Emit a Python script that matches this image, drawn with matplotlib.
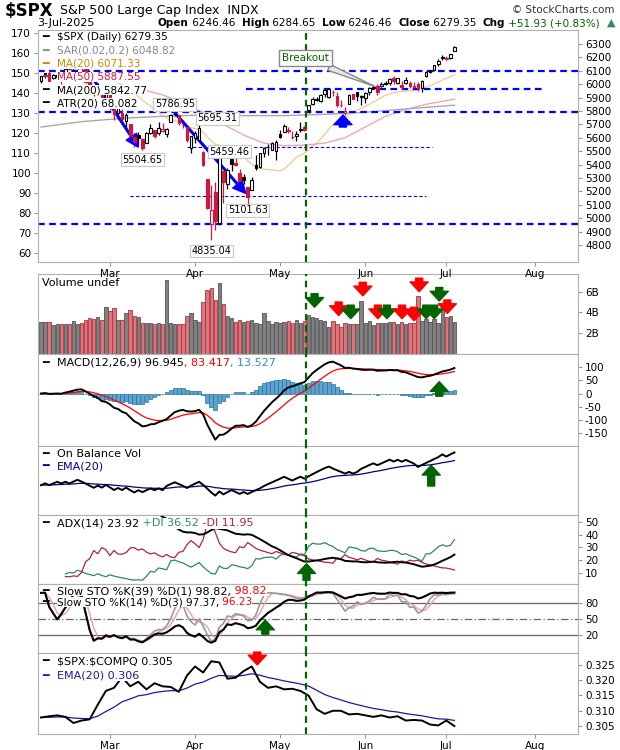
import numpy as np
import pandas as pd
import matplotlib
matplotlib.use('Agg')
import matplotlib.pyplot as plt

plt.rcParams['text.parse_math'] = False
plt.rcParams['axes.unicode_minus'] = False

# trading days Feb 5 .. Jul 3 2025 (index 0..102)
opens = [6020,6072,6083,6046,6050,6025,6060,6115,6122,6118,6134,6115,6027,5982,5970,5982,5857,
         5969,5812,5781,5785,5726,5705,5604,5624,5594,5563,5635,5655,5633,5647,5630,5718,5775,5772,5696,5679,5527,
         5597,5581,5492,5292,4953,5193,4966,5353,5255,5441,5411,5336,5305,5232,5208,5395,5381,5489,5530,5508,5499,
         5626,5645,5655,5605,5614,5661,5679,5807,5854,5884,5871,5929,5903,5944,5910,5842,5781,5855,5925,5939,5903,
         5897,5939,5978,5985,5987,6004,6010,6049,6010,5997,6005,6012,5987,5999,5970,6058,6104,6107,6151,6193,
         6187,6193,6246]
highs = [6062,6084,6101,6074,6076,6064,6116,6127,6129,6147,6134,6119,6044,5992,6010,5994,5959,
         5987,5866,5861,5812,5783,5705,5636,5642,5597,5645,5704,5660,5715,5711,5670,5775,5787,5772,5732,5685,5615,
         5650,5695,5500,5292,5246,5267,5481,5353,5372,5459,5450,5367,5328,5232,5309,5469,5489,5528,5554,5571,5581,
         5658,5700,5683,5649,5654,5721,5691,5845,5907,5907,5925,5959,5969,5953,5939,5879,5830,5925,5930,5944,5922,
         5939,5982,5990,5999,6016,6021,6043,6059,6045,6026,6050,6024,6019,6019,6028,6101,6108,6146,6187,6215,
         6210,6228,6285]
lows = [6007,6044,6020,6041,6042,6004,6051,6107,6100,6111,6085,6009,5977,5908,5935,5857,5837,
        5810,5733,5742,5711,5667,5565,5529,5546,5505,5563,5628,5598,5622,5641,5602,5718,5764,5694,5670,5572,5489,
        5558,5572,5390,5069,4835,4910,4950,5115,5221,5349,5386,5220,5255,5102,5208,5356,5371,5455,5468,5506,5433,
        5597,5644,5637,5587,5579,5640,5650,5787,5847,5876,5867,5907,5896,5908,5830,5826,5768,5855,5887,5874,5843,
        5862,5919,5966,5921,5979,5994,5994,6002,6003,5963,6004,5974,5971,5952,5943,6055,6080,6101,6133,6181,
        6178,6188,6246]
closes = [6061,6083,6026,6066,6068,6052,6115,6114,6129,6144,6117,6013,5983,5955,5956,5861,5955,
          5850,5778,5842,5739,5770,5615,5572,5599,5522,5639,5675,5615,5675,5663,5668,5768,5777,5712,5693,5581,5612,
          5633,5671,5397,5074,5062,4982,5457,5268,5363,5406,5397,5276,5283,5158,5288,5376,5485,5525,5529,5561,5569,
          5604,5686,5650,5607,5631,5664,5660,5844,5886,5892,5917,5958,5964,5941,5845,5842,5803,5922,5889,5912,5912,
          5936,5970,5971,5939,6000,6006,6039,6022,6045,5977,6033,5983,5981,5968,6025,6092,6092,6141,6173,6205,
          6198,6227,6279]
volume_b = [3.1,3.1,3.1,2.8,2.9,2.9,2.9,2.9,3.2,2.9,3.0,3.3,3.5,3.4,3.6,3.3,4.5,
            4.1,4.4,3.3,3.3,3.9,4.2,3.7,3.6,3.0,3.0,3.0,2.9,3.0,2.9,7.1,3.0,2.9,2.9,2.9,3.7,3.9,
            3.3,3.1,5.0,6.2,6.4,5.2,6.8,4.8,3.7,3.5,3.1,3.3,3.1,3.2,3.3,3.0,2.9,3.9,3.2,2.9,3.1,
            3.0,3.1,3.2,3.0,3.3,3.0,3.2,3.8,3.6,3.5,3.3,3.2,2.6,3.2,2.9,2.6,3.0,2.9,2.9,2.9,5.1,
            3.0,3.2,2.8,3.0,3.0,3.0,3.1,3.1,2.9,3.1,2.9,3.0,3.0,5.6,3.2,3.4,3.1,3.4,3.0,4.6,
            3.6,3.7,3.1]
# 200-day MA (every 10 bars) and 50-day MA (every 5 bars from bar 20)
ma200_idx = [0, 10, 20, 30, 40, 50, 60, 70, 80, 90, 102]
ma200_val = [5680, 5720, 5745, 5760, 5770, 5765, 5765, 5775, 5790, 5815, 5843]
ma50_idx = [20, 25, 30, 35, 40, 45, 50, 55, 60, 65, 70, 75, 80, 85, 90, 95, 102]
ma50_val = [5990, 5960, 5920, 5860, 5790, 5700, 5620, 5560, 5540, 5545, 5560, 5600, 5680, 5760, 5810, 5850, 5888]
# $SPX:$COMPQ ratio, every second bar
ratio = [0.3078,0.3082,0.3085,0.3080,0.3060,0.3068,0.3072,0.3120,0.3165,0.3175,0.3210,0.3180,0.3195,
         0.3170,0.3190,0.3180,0.3178,0.3162,0.3215,0.3245,0.3225,0.3262,0.3258,0.3205,0.3208,0.3230,
         0.3245,0.3195,0.3175,0.3180,0.3170,0.3172,0.3165,0.3150,0.3105,0.3090,0.3100,0.3100,0.3088,
         0.3090,0.3085,0.3080,0.3085,0.3078,0.3082,0.3068,0.3070,0.3068,0.3055,0.3052,0.3068,0.3050]
month_idx = [17, 38, 59, 80, 100, 122]
month_lbl = ['Mar', 'Apr', 'May', 'Jun', 'Jul', 'Aug']

o = np.array(opens, float); h = np.array(highs, float); l = np.array(lows, float); c = np.array(closes, float)
n = len(c); x = np.arange(n)
prev = np.r_[c[0], c[:-1]]
down = c < prev
cs = pd.Series(c); hs = pd.Series(h); ls = pd.Series(l)

fig = plt.figure(figsize=(6.2, 7.5), dpi=100)
W, H = 620.0, 750.0
def panel(top, bot):
    return fig.add_axes([38/W, 1-bot/H, 540/W, (bot-top)/H])
XL = (-0.75, 132.5)
GRN = '#006400'; RED = '#ff0000'; BLUE = '#0000ff'
def style(ax):
    ax.set_xlim(*XL)
    for s in ax.spines.values():
        s.set_color('#b0b0b0')
    ax.yaxis.tick_right()
    ax.tick_params(labelsize=7.5, length=3, color='#999999', pad=2)
    ax.set_xticks(month_idx)
    ax.set_xticklabels([])
    ax.axvline(65.5, color=GRN, ls=(0, (3, 2)), lw=1.6, zorder=5)
def barrow(ax, xt, yt, xb, yb, col):
    ax.annotate('', xy=(xt, yt), xytext=(xb, yb),
                arrowprops=dict(facecolor=col, edgecolor=col, width=5, headwidth=13, headlength=7), zorder=8)
def legend_line(ax, y, parts, fs=8):
    # parts: list of (text, colour); chained one after another
    ax.text(0.008, y, '━', fontsize=8, color=parts[0][1], transform=ax.transAxes, va='top')
    prevt = ax.text(0.035, y, parts[0][0], fontsize=fs, color=parts[0][1], transform=ax.transAxes, va='top',
                    bbox=dict(fc='white', ec='none', pad=0.1), zorder=9)
    for txt, col in parts[1:]:
        prevt = ax.annotate(txt, xy=(1, 0), xycoords=prevt, fontsize=fs, color=col, va='bottom', zorder=9,
                            bbox=dict(fc='white', ec='none', pad=0.1))

# ---------- price panel
ax = panel(30, 262)
axl = ax.twinx()
style(ax)
ax.set_ylim(4673, 6404)
ax.set_yticks(np.arange(4800, 6301, 100))
ax.set_xticklabels(month_lbl)
axl.set_ylim(55.5, 171.5)
axl.yaxis.tick_left()
axl.set_yticks(np.arange(60, 171, 10))
axl.tick_params(labelsize=7.5, length=3, color='#999999', pad=2)
for s in axl.spines.values():
    s.set_visible(False)
ax.yaxis.tick_right()
ax.set_zorder(axl.get_zorder()+1)
ax.patch.set_visible(False)
for i in range(n):
    col = '#d4143c' if down[i] else 'black'
    ax.vlines(i, l[i], h[i], color=col, lw=0.9, zorder=3)
    bot, top = min(o[i], c[i]), max(o[i], c[i])
    face = 'white' if c[i] >= o[i] else col
    ax.bar(i, max(top-bot, 3), bottom=bot, width=0.65, color=face, edgecolor=col, lw=0.8, zorder=4)
ax.plot(x[19:], cs.rolling(20).mean()[19:], color='#f2cc99', lw=1)
ax.plot(ma50_idx, ma50_val, color='#eaa9b2', lw=1)
ax.plot(ma200_idx, ma200_val, color='#a8a8a8', lw=1)
for y in [6100, 5790, 4960]:
    ax.axhline(y, color=BLUE, ls=(0, (3, 2)), lw=1.6)
ax.plot([50.5, 124], [5965, 5965], color=BLUE, ls=(0, (3, 2)), lw=1.6)
ax.plot([36, 96.5], [5530, 5530], color=BLUE, ls=(0, (3, 2)), lw=0.8)
ax.plot([22, 95], [5165, 5165], color=BLUE, ls=(0, (3, 2)), lw=0.8)
ax.annotate('', xy=(24, 5530), xytext=(11, 6125),
            arrowprops=dict(color=BLUE, width=1.2, headwidth=9, headlength=9))
ax.annotate('', xy=(50.5, 5185), xytext=(33, 5787),
            arrowprops=dict(color=BLUE, width=1.2, headwidth=9, headlength=9))
barrow(ax, 74.5, 5770, 74.5, 5680, BLUE)
bx = dict(boxstyle='square,pad=0.15', fc='white', ec='#c8c8c8', lw=0.8)
for xi, yi, t in [(33, 5850, '5786.95'), (43.5, 5745, '5695.31'), (25, 5435, '5504.65'),
                  (46.5, 5495, '5459.46'), (51, 5060, '5101.63'), (42, 4755, '4835.04')]:
    ax.text(xi, yi, t, fontsize=7, ha='center', va='center', bbox=bx, zorder=9)
ax.annotate('Breakout', xy=(83, 5975), xytext=(59.5, 6175), fontsize=7.5, color=GRN,
            bbox=dict(boxstyle='square,pad=0.3', fc='white', ec='#888888'),
            arrowprops=dict(arrowstyle='wedge,tail_width=0.6', fc='#e8e8e8', ec='#888888'), zorder=9)
leg = [('$SPX (Daily) 6279.35', 'black'), ('SAR(0.02,0.2) 6048.82', '#888888'),
       ('MA(20) 6071.33', '#cc8800'), ('MA(50) 5887.55', '#d4143c'),
       ('MA(200) 5842.77', 'black'), ('ATR(20) 68.082', 'black')]
for k, (t, col) in enumerate(leg):
    legend_line(ax, 0.99-k*0.057, [(t, col)], fs=7.5)

# ---------- volume
av = panel(274, 354)
style(av)
av.set_ylim(0, 7.7)
av.set_yticks([2, 4, 6]); av.set_yticklabels(['2B', '4B', '6B'])
av.bar(x, volume_b, width=0.85, color=np.where(down, '#d9777d', '#808080'),
       edgecolor=np.where(down, '#b03040', '#555555'), lw=0.6)
av.text(0.008, 0.95, 'Volume undef', fontsize=8, transform=av.transAxes, va='top')
def vi(px):
    return (px-41)/4.03
for px, yt, col in [(313, 4.5, GRN), (337, 3.7, RED), (349, 3.4, GRN), (361, 5.6, RED), (376, 3.4, RED),
                    (385, 3.4, GRN), (400, 3.4, RED), (412, 3.2, RED), (417, 6.0, RED), (424, 3.4, GRN),
                    (432, 3.4, GRN), (437, 5.1, GRN), (445, 3.9, RED)]:
    barrow(av, vi(px), yt, vi(px), yt+1.3, col)

# ---------- MACD
am = panel(354, 446)
style(am)
am.set_ylim(-199, 150)
am.set_yticks([-150, -100, -50, 0, 50, 100])
macd = cs.ewm(span=12, adjust=False).mean() - cs.ewm(span=26, adjust=False).mean()
sig = macd.ewm(span=9, adjust=False).mean()
hist = macd - sig
am.bar(x, hist, width=0.9, color='#5aa5d2', edgecolor='#2a6f9a', lw=0.5)
am.plot(x, sig, color='red', lw=0.9)
am.plot(x, macd, color='black', lw=1.4)
legend_line(am, 0.96, [('MACD(12,26,9) 96.945', 'black'), (', 83.417', 'red'), (', 13.527', '#2a8fc8')])
barrow(am, vi(437), 45, vi(437), -10, GRN)

# ---------- OBV
ao = panel(446, 515)
style(ao)
obv = pd.Series(np.cumsum(np.where(down, -1, 1) * np.array(volume_b)))
ao.plot(x, obv.ewm(span=20, adjust=False).mean(), color='#00008b', lw=0.9)
ao.plot(x, obv, color='black', lw=1.4)
ao.set_yticks([])
lo, hi = obv.min(), obv.max()
ao.set_ylim(lo-(hi-lo)*0.45, hi+(hi-lo)*0.15)
legend_line(ao, 0.95, [('On Balance Vol', 'black')])
legend_line(ao, 0.78, [('EMA(20)', '#00008b')])
ao.annotate('', xy=(vi(429), 0.72), xytext=(vi(429), 0.42), xycoords=('data', 'axes fraction'),
            arrowprops=dict(facecolor=GRN, edgecolor=GRN, width=5, headwidth=13, headlength=7))

# ---------- ADX
aa = panel(515, 584)
style(aa)
aa.set_ylim(1, 55.5)
aa.set_yticks([10, 20, 30, 40, 50])
up_m = hs.diff(); dn_m = -ls.diff()
pdm = np.where((up_m > dn_m) & (up_m > 0), up_m, 0.0)
mdm = np.where((dn_m > up_m) & (dn_m > 0), dn_m, 0.0)
tr = pd.concat([hs-ls, (hs-cs.shift()).abs(), (ls-cs.shift()).abs()], axis=1).max(axis=1)
atr = tr.ewm(alpha=1/14, adjust=False).mean()
pdi = 100*pd.Series(pdm).ewm(alpha=1/14, adjust=False).mean()/atr
mdi = 100*pd.Series(mdm).ewm(alpha=1/14, adjust=False).mean()/atr
adx = (100*(pdi-mdi).abs()/(pdi+mdi)).ewm(alpha=1/14, adjust=False).mean()
s0 = 6
aa.plot(x[s0:], pdi[s0:], color='#2e8b57', lw=0.9)
aa.plot(x[s0:], mdi[s0:], color='#b22245', lw=0.9)
aa.plot(x[s0:], adx[s0:], color='black', lw=1.4)
legend_line(aa, 0.95, [('ADX(14) 23.92', 'black'), (' +DI 36.52', '#2e8b57'), (' -DI 11.95', '#b22245')])
barrow(aa, vi(305), 17, vi(305), 4, GRN)

# ---------- Slow STO
ast = panel(584, 653)
style(ast)
ast.set_ylim(-12.7, 114.5)
ast.set_yticks([20, 50, 80])
for yv, ls_ in [(20, '-'), (80, '-'), (50, (0, (6, 2, 1, 2)))]:
    ast.axhline(yv, color='#666666', lw=0.9, ls=ls_)
lo39 = ls.rolling(39, min_periods=1).min(); hi39 = hs.rolling(39, min_periods=1).max()
lo14 = ls.rolling(14, min_periods=1).min(); hi14 = hs.rolling(14, min_periods=1).max()
k39 = (100*(cs-lo39)/(hi39-lo39)).rolling(3, min_periods=1).mean()
k14 = (100*(cs-lo14)/(hi14-lo14)).rolling(3, min_periods=1).mean()
d14 = k14.rolling(3, min_periods=1).mean()
ast.plot(x, d14, color='#f0a0a0', lw=1)
ast.plot(x, k14, color='#999999', lw=1.2)
ast.plot(x, k39, color='black', lw=1.5)
legend_line(ast, 0.97, [('Slow STO %K(39) %D(1) 98.82,', 'black'), (' 98.82', 'red')])
legend_line(ast, 0.81, [('Slow STO %K(14) %D(3) 97.37,', 'black'), (' 96.23', 'red')], fs=7.5)
barrow(ast, vi(264), 48, vi(264), 22, GRN)

# ---------- SPX:COMPQ
ar = panel(653, 734)
style(ar)
ar.set_ylim(0.3024, 0.3289)
ar.set_yticks([0.305, 0.310, 0.315, 0.320, 0.325])
ar.set_yticklabels(['0.305', '0.310', '0.315', '0.320', '0.325'])
rx = np.arange(0, n, 2)
rs = pd.Series(ratio)
ar.plot(rx, rs.ewm(span=10, adjust=False).mean(), color='#1a1aa0', lw=0.9)
ar.plot(rx, rs, color='black', lw=1.4)
ar.set_xticklabels(month_lbl)
legend_line(ar, 0.96, [('$SPX:$COMPQ 0.305', 'black')])
legend_line(ar, 0.78, [('EMA(20) 0.306', '#1a1aa0')])
barrow(ar, vi(256), 0.3250, vi(256), 0.3292, RED)

# ---------- header
fig.text(5/W, 1-2/H, '$SPX', fontsize=12, fontweight='bold', va='top')
fig.text(60/W, 1-4/H, 'S&P 500 Large Cap Index  INDX', fontsize=9, va='top')
fig.text(37/W, 1-18/H, '3-Jul-2025', fontsize=8, va='top')
prevh = fig.text(158/W, 1-18/H, 'Open', fontsize=7.5, va='top', fontweight='bold')
for t in [' 6246.46  ', 'High', ' 6284.65  ', 'Low', ' 6246.46  ', 'Close', ' 6279.35  ', 'Chg', ' +51.93 (+0.83%)']:
    bold = t in ('High', 'Low', 'Close', 'Chg')
    prevh = ax.annotate(t, xy=(1, 0), xycoords=prevh, fontsize=7.5, va='bottom', annotation_clip=False,
                        fontweight='bold' if bold else 'normal', color='#006400' if '+' in t else 'black')
fig.text(615/W, 1-5/H, '© StockCharts.com', fontsize=7.5, ha='right', va='top', color='#333333')
fig.text(615/W, 1-18/H, '▲', fontsize=8, ha='right', va='top', color='#2e8b57')

fig.savefig('out.png', dpi=100)
